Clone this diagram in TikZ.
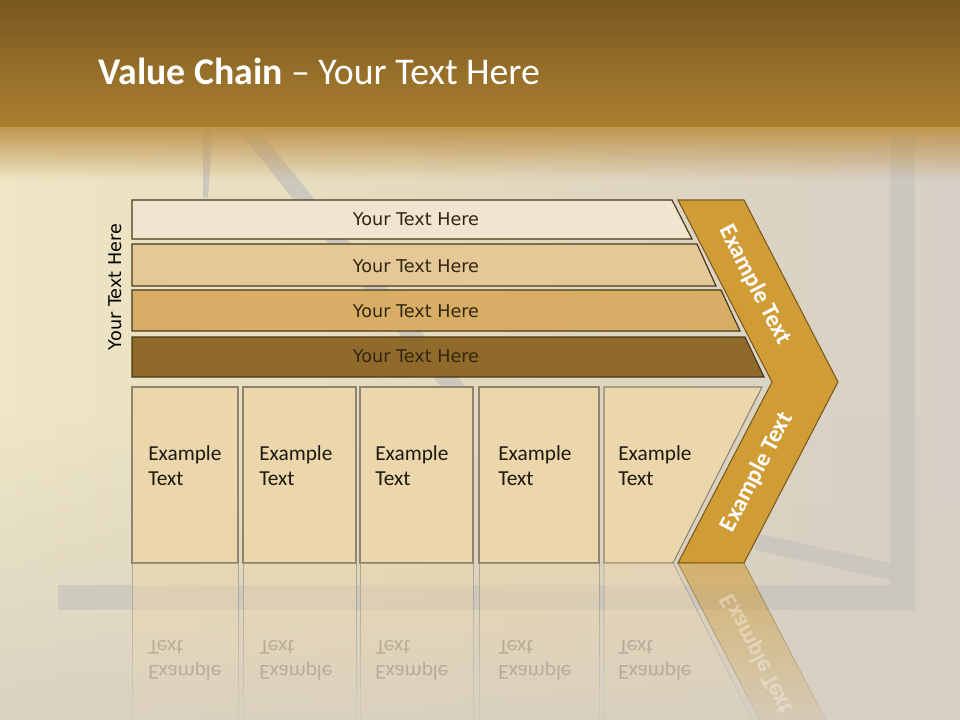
\documentclass[tikz,border=0pt]{standalone}
\usepackage{fontspec}
\setmainfont{Carlito}
\newfontfamily\verdfont{DejaVu Sans}
\usetikzlibrary{fadings}
\definecolor{bandtop}{HTML}{785820}
\definecolor{bandbot}{HTML}{AD8030}
\definecolor{bandedge}{HTML}{C09650}
\definecolor{bgleft}{HTML}{EEE6C4}
\definecolor{bgmid}{HTML}{E3D9BE}
\definecolor{bgright}{HTML}{D6CFC6}
\definecolor{bglow}{HTML}{D6CFC2}
\definecolor{decogray}{HTML}{C4C1BC}
\definecolor{barA}{HTML}{F0E5CF}
\definecolor{barB}{HTML}{E5C898}
\definecolor{barC}{HTML}{D8AE66}
\definecolor{barD}{HTML}{8F6A2B}
\definecolor{barline}{HTML}{4A3818}
\definecolor{boxfill}{HTML}{ECD6AC}
\definecolor{boxline}{HTML}{8E8470}
\definecolor{chev}{HTML}{D09C36}
\definecolor{chevline}{HTML}{7A5A1E}
\definecolor{bartext}{HTML}{33260F}
\definecolor{boxtext}{HTML}{1E1A10}
\tikzfading[name=reflfade, top color=transparent!40, bottom color=transparent!100]
\tikzfading[name=bandfade, top color=transparent!0, bottom color=transparent!100]
\tikzfading[name=upfade, top color=transparent!100, bottom color=transparent!0]
\begin{document}
\begin{tikzpicture}[x=0.75pt, y=-0.75pt,
  barshape/.style={draw=barline, line width=0.9pt},
  bartxt/.style={text=bartext, font=\verdfont\fontsize{13.2}{16}\selectfont, inner sep=0pt},
  boxshape/.style={fill=boxfill, draw=boxline, line width=0.8pt},
  boxtxt/.style={text=boxtext, font=\fontsize{16}{19.2}\selectfont, align=left, anchor=north west, inner sep=0pt},
  chevtxt/.style={text=white, font=\bfseries\fontsize{18}{21}\selectfont, inner sep=0pt},
  deco/.style={fill=decogray, opacity=0.75},
  reflbox/.style={fill=boxfill, draw=boxline, line width=0.6pt, path fading=reflfade},
  refltxt/.style={boxtxt, text opacity=0.2, transform shape}
]
\useasboundingbox (0,0) rectangle (960,720);
% background
\shade[left color=bgleft, right color=bgright, middle color=bgmid] (0,0) rectangle (960,720);
\fill[bglow, path fading=upfade, opacity=0.85] (0,420) rectangle (960,720);
% decorative frame lines
\fill[deco] (203,128) -- (213,128) -- (208,198) -- (203,198) -- cycle;
\fill[deco] (237,128) -- (257,128) -- (466,387) -- (441,387) -- cycle;
\fill[deco, opacity=0.6] (890,128) rectangle (915,610);
\fill[deco, opacity=0.6] (58,585) rectangle (890,610);
\fill[deco, opacity=0.6] (755,533) -- (890,563) -- (890,580) -- (755,550) -- cycle;
% title band
\shade[top color=bandtop, bottom color=bandbot] (0,0) rectangle (960,128);
\fill[bandedge, path fading=bandfade] (0,127) rectangle (960,180);
\node[anchor=base west, text=white, font=\fontsize{28.3}{34}\selectfont, inner sep=0pt] (title) at (98,85) {\textbf{Value Chain} – Your Text Here};
% bars
\filldraw[fill=barA, barshape] (132,200) -- (672,200) -- (692,239) -- (132,239) -- cycle;
\filldraw[fill=barB, barshape] (132,244) -- (697,244) -- (716,286) -- (132,286) -- cycle;
\filldraw[fill=barC, barshape] (132,290) -- (721,290) -- (740,331) -- (132,331) -- cycle;
\filldraw[fill=barD, barshape] (132,337) -- (745,337) -- (764,377) -- (132,377) -- cycle;
\node[bartxt] (bt1) at (416,219) {Your Text Here};
\node[bartxt] (bt2) at (416,266.5) {Your Text Here};
\node[bartxt] (bt3) at (416,311.5) {Your Text Here};
\node[bartxt] (bt4) at (416,356.5) {Your Text Here};
\node[bartxt, text=black, rotate=90] (side) at (115,287) {Your Text Here};
% boxes
\filldraw[boxshape] (132,387) rectangle (238,563);
\filldraw[boxshape] (243,387) rectangle (356,563);
\filldraw[boxshape] (360,387) rectangle (473,563);
\filldraw[boxshape] (479,387) rectangle (599,563);
\filldraw[boxshape] (604,387) -- (762,387) -- (673,563) -- (604,563) -- cycle;
\node[boxtxt] (x1) at (148,445) {Example\\Text};
\node[boxtxt] (x2) at (259,445) {Example\\Text};
\node[boxtxt] (x3) at (375,445) {Example\\Text};
\node[boxtxt] (x4) at (498,445) {Example\\Text};
\node[boxtxt] (x5) at (618,445) {Example\\Text};
% chevron
\filldraw[fill=chev, draw=chevline, line width=0.8pt] (678,200) -- (744,200) -- (838,382) -- (744,563) -- (678,563) -- (772,382) -- cycle;
\node[chevtxt, rotate=-62.7] (c1) at (755,285) {Example Text};
\node[chevtxt, rotate=62.7] (c2) at (757,472) {Example Text};
% reflections
\path[reflbox] (132,563) rectangle (238,739);
\path[reflbox] (243,563) rectangle (356,739);
\path[reflbox] (360,563) rectangle (473,739);
\path[reflbox] (479,563) rectangle (599,739);
\path[reflbox] (604,563) -- (673,563) -- (762,739) -- (604,739) -- cycle;
\path[fill=chev, draw=chevline, line width=0.6pt, path fading=reflfade] (678,563) -- (744,563) -- (838,744) -- (772,744) -- cycle;
\begin{scope}[cm={1,0,0,-1,(0,1126)}]
\node[refltxt] (r1) at (148,445) {Example\\Text};
\node[refltxt] (r2) at (259,445) {Example\\Text};
\node[refltxt] (r3) at (375,445) {Example\\Text};
\node[refltxt] (r4) at (498,445) {Example\\Text};
\node[refltxt] (r5) at (618,445) {Example\\Text};
\node[chevtxt, rotate=62.7, transform shape, text opacity=0.35] (rc) at (757,472) {Example Text};
\end{scope}
\end{tikzpicture}
\end{document}
